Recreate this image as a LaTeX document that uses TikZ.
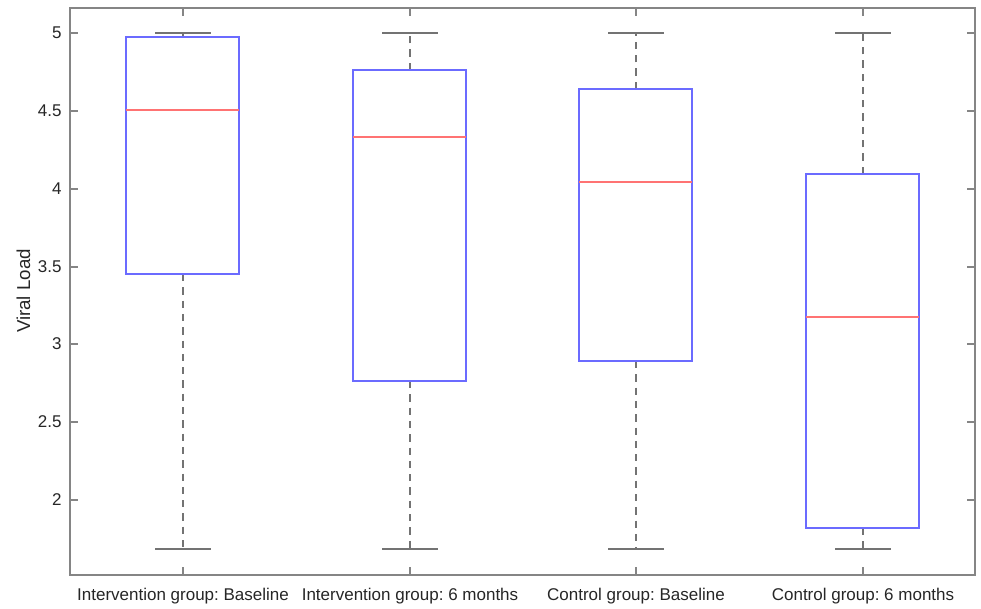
\documentclass[tikz,border=0pt]{standalone}
\usepackage{fontspec}
\setmainfont{Liberation Sans}
\frenchspacing
\definecolor{axgray}{gray}{0.52}
\definecolor{whgray}{gray}{0.45}
\definecolor{txgray}{gray}{0.15}
\definecolor{boxblue}{rgb}{0.42,0.42,1}
\definecolor{medred}{rgb}{1,0.45,0.45}
\begin{document}
\begin{tikzpicture}[x=1pt, y=-1pt,
  axisline/.style={color=axgray, line width=2pt},
  ticklab/.style={font=\fontsize{17}{17}\selectfont, color=txgray, inner sep=0pt},
  boxst/.style={color=boxblue, line width=2pt},
  medst/.style={color=medred, line width=2pt},
  whisk/.style={color=whgray, line width=2pt, dash pattern=on 7.3pt off 6pt},
  capst/.style={color=whgray, line width=2pt}
]
\useasboundingbox (0,0) rectangle (981,609);
% axes box
\coordinate (ll) at (70,575);
\coordinate (ur) at (975,8);
\draw[axisline] (ll) rectangle (ur);
% y ticks
\foreach \v/\py [count=\k] in {2/500,2.5/422,3/344,3.5/267,4/189,4.5/111,5/33}{
  \draw[axisline] (70,\py) -- ++(8,0);
  \draw[axisline] (975,\py) -- ++(-8,0);
  \node[ticklab, anchor=east] (yl\k) at (61.7,\py) {\v};
}
% x ticks and labels
\foreach \px/\lab [count=\k] in {183/{Intervention group: Baseline},
                                410/{Intervention group: 6 months},
                                636/{Control group: Baseline},
                                863/{Control group: 6 months}}{
  \draw[axisline] (\px,575) -- ++(0,-8);
  \draw[axisline] (\px,8) -- ++(0,8);
  \node[ticklab, anchor=base] (xl\k) at (\px,600) {\lab};
}
% y label
\node[font=\fontsize{18.7}{18.7}\selectfont, color=txgray, rotate=90, inner sep=0pt] (ylab) at (23.5,291) {Viral Load};
% boxes: centre / left / right / q3 / median / q1 (pixel rows)
\foreach \c/\bl/\br/\qb/\qm/\qa in {183/126/239/37/110/274,
                                   410/353/466/70/137/381,
                                   636/579/692/89/182/361,
                                   863/806/919/174/317/528}{
  \draw[whisk] (\c,\qa) -- (\c,549);
  \draw[whisk] (\c,\qb) -- (\c,33);
  \draw[capst] (\c-28,33) -- (\c+28,33);
  \draw[capst] (\c-28,549) -- (\c+28,549);
  \draw[boxst] (\bl,\qa) rectangle (\br,\qb);
  \draw[medst] (\bl,\qm) -- (\br,\qm);
}
\end{tikzpicture}
\end{document}
